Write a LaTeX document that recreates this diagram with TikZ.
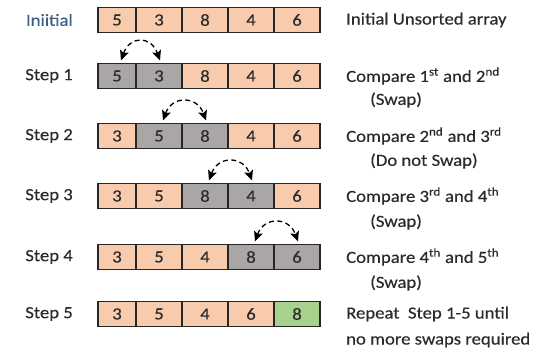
\documentclass[tikz,border=0pt]{standalone}
\usepackage{fontspec}
\setmainfont{Carlito}[FakeStretch=1.1, FakeBold=0.4]
\usetikzlibrary{arrows.meta,positioning}

\definecolor{todofill}{HTML}{F8CBAD}
\definecolor{cmpfill}{HTML}{A9A6A5}
\definecolor{donefill}{HTML}{A9D18E}
\definecolor{cellline}{HTML}{262626}
\definecolor{txt}{HTML}{2B2B2B}
\definecolor{initblue}{HTML}{3D5F86}

\newcommand{\bigfont}{\fontsize{17}{20}\selectfont}

% one row of five cells, the first one narrower
\newcommand{\cellrow}[3]{%
    \foreach \v/\s [count=\i] in {#3} {
        \pgfmathsetmacro{\cx}{\i==1 ? 117 : 113+46*(\i-1)}
        \pgfmathsetmacro{\cw}{\i==1 ? 38 : 46}
        \node[\s, minimum width=\cw pt] (#1\i) at (\cx,#2) {\v};
    }%
}

\tikzset{
    cell/.style={draw=cellline, line width=1.3pt, minimum height=25pt, inner sep=0pt, outer sep=0pt, font=\bigfont, text=txt},
    todo/.style={cell, fill=todofill},
    cmp/.style={cell, fill=cmpfill},
    done/.style={cell, fill=donefill},
    steplabel/.style={font=\bigfont, text=txt, inner sep=0pt},
    note/.style={font=\bigfont, text=txt, inner sep=0pt, anchor=west},
    swaparrow/.style={line width=1.3pt, dash pattern=on 5pt off 3.5pt, {Stealth[length=10pt,width=9pt,inset=2pt]}-{Stealth[length=10pt,width=9pt,inset=2pt]}}
}

\begin{document}
\begin{tikzpicture}[x=1pt, y=-1pt]

    \useasboundingbox (0,0) rectangle (541,358);

    %% Rows of the array

    % Initial
    \cellrow{i}{20}{5/todo,3/todo,8/todo,4/todo,6/todo}
    \node[steplabel, text=initblue, left=25pt of i1] (li) {Iniitial};
    \node[note, right=26pt of i5] (ni) {Initial Unsorted array};

    % Step 1
    \cellrow{a}{76}{5/cmp,3/cmp,8/todo,4/todo,6/todo}
    \node[steplabel, left=25pt of a1] (la) {Step 1};
    \draw[swaparrow] ([xshift=4pt, yshift=3pt]a1.north) .. controls +(9,-25) and +(-9,-25) .. ([xshift=1pt, yshift=3pt]a2.north);
    \node[note, right=26pt of a5] (na) {Compare 1\textsuperscript{st} and 2\textsuperscript{nd}};
    \node[note] (na2) at ([xshift=24pt, yshift=-24pt]na.west) {(Swap)};

    % Step 2
    \cellrow{b}{136}{3/todo,5/cmp,8/cmp,4/todo,6/todo}
    \node[steplabel, left=25pt of b1] (lb) {Step 2};
    \draw[swaparrow] ([xshift=4pt, yshift=3pt]b2.north) .. controls +(9,-25) and +(-9,-25) .. ([xshift=1pt, yshift=3pt]b3.north);
    \node[note, right=26pt of b5] (nb) {Compare 2\textsuperscript{nd} and 3\textsuperscript{rd}};
    \node[note] (nb2) at ([xshift=24pt, yshift=-25pt]nb.west) {(Do not Swap)};

    % Step 3
    \cellrow{c}{196}{3/todo,5/todo,8/cmp,4/cmp,6/todo}
    \node[steplabel, left=25pt of c1] (lc) {Step 3};
    \draw[swaparrow] ([xshift=4pt, yshift=3pt]c3.north) .. controls +(9,-25) and +(-9,-25) .. ([xshift=1pt, yshift=3pt]c4.north);
    \node[note, right=26pt of c5] (nc) {Compare 3\textsuperscript{rd} and 4\textsuperscript{th}};
    \node[note] (nc2) at ([xshift=24pt, yshift=-26pt]nc.west) {(Swap)};

    % Step 4
    \cellrow{d}{257}{3/todo,5/todo,4/todo,8/cmp,6/cmp}
    \node[steplabel, left=25pt of d1] (ld) {Step 4};
    \draw[swaparrow] ([xshift=4pt, yshift=3pt]d4.north) .. controls +(9,-25) and +(-9,-25) .. ([xshift=1pt, yshift=3pt]d5.north);
    \node[note, right=26pt of d5] (nd) {Compare 4\textsuperscript{th} and 5\textsuperscript{th}};
    \node[note] (nd2) at ([xshift=24pt, yshift=-26pt]nd.west) {(Swap)};

    % Step 5
    \cellrow{e}{314}{3/todo,5/todo,4/todo,6/todo,8/done}
    \node[steplabel, left=25pt of e1] (le) {Step 5};
    \node[note, right=26pt of e5] (ne) {Repeat~ Step 1-5 until};
    \node[note] (ne2) at ([yshift=-26pt]ne.west) {no more swaps required};

\end{tikzpicture}
\end{document}
